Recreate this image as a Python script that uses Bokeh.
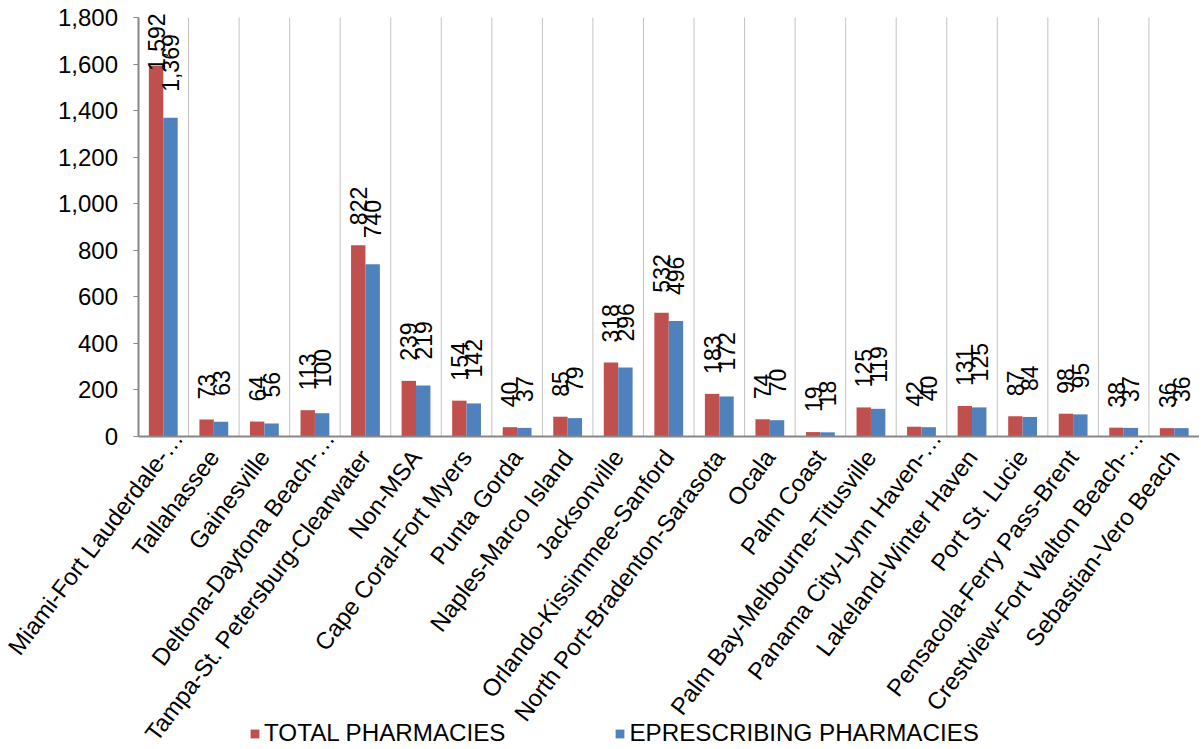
import math
from bokeh.plotting import figure
from bokeh.models import (ColumnDataSource, Range1d, FixedTicker, NumeralTickFormatter,
                          Legend, LegendItem, LinearAxis)
from bokeh.core.properties import value
from bokeh.embed import file_html
from bokeh.resources import INLINE

# ---------------- data ----------------
categories = [
    "Miami-Fort Lauderdale-\u2026", "Tallahassee", "Gainesville", "Deltona-Daytona Beach-\u2026",
    "Tampa-St. Petersburg-Clearwater", "Non-MSA", "Cape Coral-Fort Myers", "Punta Gorda",
    "Naples-Marco Island", "Jacksonville", "Orlando-Kissimmee-Sanford",
    "North Port-Bradenton-Sarasota", "Ocala", "Palm Coast", "Palm Bay-Melbourne-Titusville",
    "Panama City-Lynn Haven-\u2026", "Lakeland-Winter Haven", "Port St. Lucie",
    "Pensacola-Ferry Pass-Brent", "Crestview-Fort Walton Beach-\u2026", "Sebastian-Vero Beach",
]
total_pharmacies = [1592, 73, 64, 113, 822, 239, 154, 40, 85, 318, 532, 183, 74, 19, 125, 42,
                    131, 87, 98, 38, 36]
eprescribing_pharmacies = [1369, 63, 56, 100, 740, 219, 142, 37, 79, 296, 496, 172, 70, 18, 119,
                           40, 125, 84, 95, 37, 36]
series_names = ["TOTAL PHARMACIES", "EPRESCRIBING PHARMACIES"]
y_ticks = [0, 200, 400, 600, 800, 1000, 1200, 1400, 1600, 1800]

# ---------------- style / layout ----------------
RED = "#C0504D"
BLUE = "#4F81BD"
AXIS_GRAY = "#878787"
GRID_GRAY = "#C3C3C3"
FONT = "Liberation Sans"
W, H = 1199, 748
AX_LEFT_PX = 137.5          # where the value axis sits
AX_TOP_PX = 17              # where 1,800 sits
AX_ZERO_PX = 436            # where 0 sits
Y_MAX = 1800
n = len(categories)
ppu = (AX_ZERO_PX - AX_TOP_PX) / Y_MAX          # px per value unit
ppx = (W - AX_LEFT_PX) / n                      # px per category
X_MIN = -0.5 - AX_LEFT_PX / ppx
X_MAX = X_MIN + W / ppx
Y_TOP = Y_MAX + AX_TOP_PX / ppu
Y_BOT = -(H - AX_ZERO_PX) / ppu

BAR_W = 0.285
OFF = BAR_W / 2
LBL_FS = 23
CAT_FS = 24
CAT_ANGLE = math.radians(53)
CAT_STANDOFF = 16            # px below the axis line

idx = list(range(n))

def fmt(v):
    return f"{v:,}"

def text_len_px(s, fs):
    return sum((0.278 if ch == "," else 0.556) for ch in s) * fs

def label_y(vals, gap_px):
    top_limit = Y_MAX + 4 / ppu
    out = []
    for v in vals:
        y = v + gap_px / ppu
        y = min(y, top_limit - text_len_px(fmt(v), LBL_FS) / ppu)
        out.append(y)
    return out

src_t = ColumnDataSource(dict(
    x=[i - OFF for i in idx], top=total_pharmacies,
    ly=label_y(total_pharmacies, 20), txt=[fmt(v) for v in total_pharmacies]))
src_e = ColumnDataSource(dict(
    x=[i + OFF for i in idx], top=eprescribing_pharmacies,
    ly=label_y(eprescribing_pharmacies, 26), txt=[fmt(v) for v in eprescribing_pharmacies]))

# category label anchors: truncated labels let their ellipsis hang past the anchor
cat_x, cat_y = [], []
for i, c in zip(idx, categories):
    ell = CAT_FS if c.endswith("\u2026") else 0.0
    cat_x.append(i + ell * math.cos(CAT_ANGLE) / ppx)
    cat_y.append((-CAT_STANDOFF + ell * math.sin(CAT_ANGLE)) / ppu)
src_c = ColumnDataSource(dict(x=cat_x, y=cat_y, txt=categories))

p = figure(width=W, height=H, output_backend="svg", toolbar_location=None,
           x_range=Range1d(X_MIN, X_MAX), y_range=Range1d(Y_BOT, Y_TOP),
           x_axis_location=None, y_axis_location=None,
           min_border_left=0, min_border_right=0, min_border_top=0, min_border_bottom=0)
p.outline_line_color = None
p.background_fill_color = "white"
p.border_fill_color = "white"
p.xgrid.visible = False
p.ygrid.visible = False

# vertical grid lines at the category boundaries (only over the value area)
bounds_x = [i + 0.5 for i in idx[:-1]]
p.segment(x0=bounds_x, x1=bounds_x, y0=[0] * len(bounds_x), y1=[Y_MAX] * len(bounds_x),
          line_color=GRID_GRAY, line_width=1)

r_t = p.vbar(x="x", top="top", width=BAR_W, bottom=0, source=src_t,
             fill_color=RED, line_color=None)
r_e = p.vbar(x="x", top="top", width=BAR_W, bottom=0, source=src_e,
             fill_color=BLUE, line_color=None)

# value labels
for src in (src_t, src_e):
    p.text(x="x", y="ly", text="txt", source=src, angle=math.pi / 2,
           text_align="left", text_baseline="middle",
           text_font=value(FONT), text_font_size=f"{LBL_FS}px", text_color="black")

# category labels
p.text(x="x", y="y", text="txt", source=src_c, angle=CAT_ANGLE,
       text_align="right", text_baseline="middle",
       text_font=value(FONT), text_font_size=f"{CAT_FS}px", text_color="black")

# category axis (line only), fixed at value 0
xaxis = LinearAxis(fixed_location=0, bounds=(-0.5, n - 0.5), ticker=FixedTicker(ticks=[]),
                   axis_line_color=AXIS_GRAY, axis_line_width=2,
                   major_tick_line_color=None, minor_tick_line_color=None,
                   major_label_text_font_size="0px")
p.add_layout(xaxis, "below")

# value axis, fixed at the left edge of the first category
yaxis = LinearAxis(fixed_location=-0.5, bounds=(0, Y_MAX), ticker=FixedTicker(ticks=y_ticks),
                   formatter=NumeralTickFormatter(format="0,0"),
                   major_label_text_font=FONT, major_label_text_font_size="24px",
                   major_label_text_color="black",
                   major_tick_line_color=AXIS_GRAY, major_tick_out=5, major_tick_in=0,
                   minor_tick_line_color=None, major_label_standoff=15,
                   axis_line_color=AXIS_GRAY, axis_line_width=2)
p.add_layout(yaxis, "left")

legend = Legend(items=[LegendItem(label=series_names[0], renderers=[r_t]),
                       LegendItem(label=series_names[1], renderers=[r_e])],
                orientation="horizontal", location=(249, 1),
                padding=0, margin=0, spacing=109, label_standoff=4,
                glyph_width=11, glyph_height=11,
                label_text_font=FONT, label_text_font_size="24.2px",
                label_text_color="black",
                border_line_alpha=0, background_fill_alpha=0)
p.add_layout(legend, "center")

open("out.html", "w").write(file_html(p, INLINE))
